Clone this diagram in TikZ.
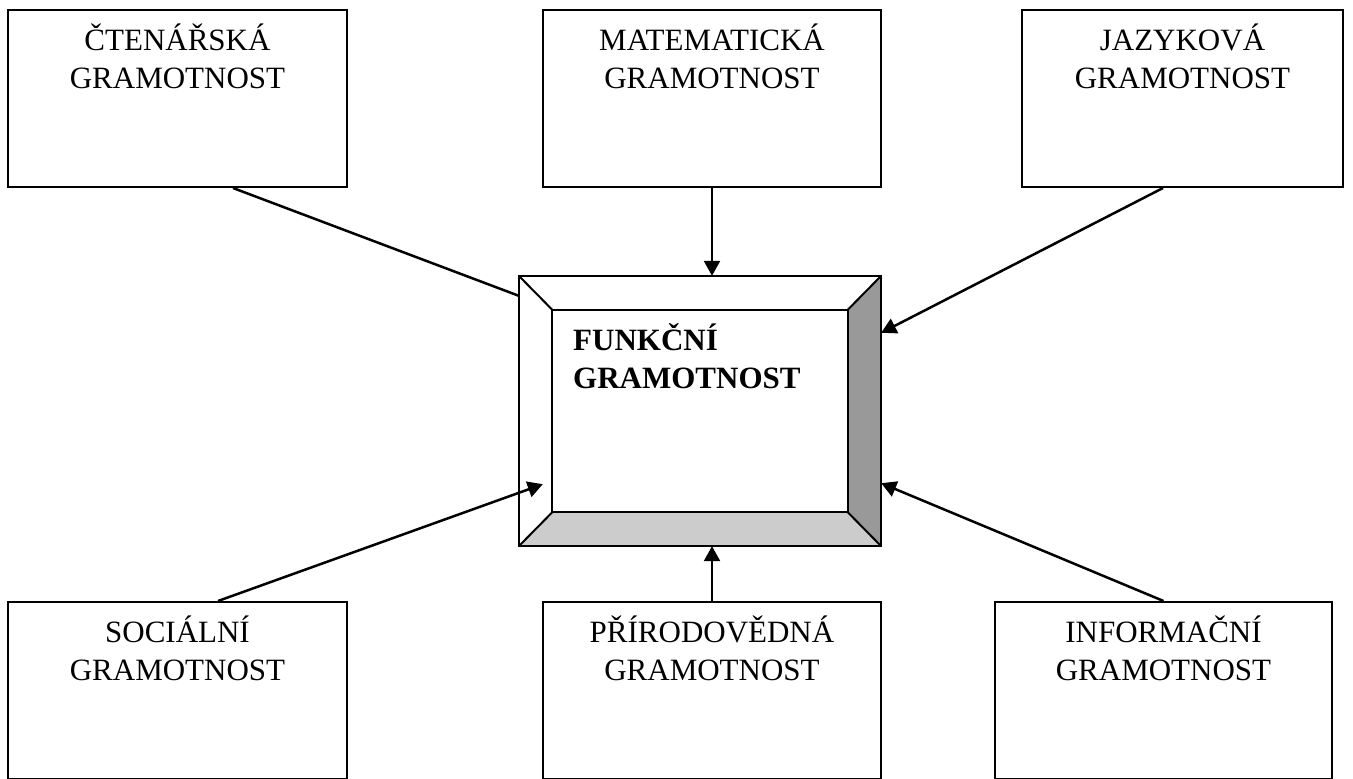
\documentclass[tikz,border=0pt]{standalone}
\usepackage{fontspec}
\setmainfont{Liberation Serif}
\usetikzlibrary{arrows.meta}
\tikzset{
  box/.style={draw, line width=2pt, minimum width=339pt, minimum height=177pt, inner sep=0pt},
  boxtext/.style={anchor=north, inner sep=0pt, align=center, font=\fontsize{31}{38}\selectfont},
  conn/.style={line width=2.5pt},
  arr/.style={line width=2.5pt, -{Triangle[length=15pt,width=16pt]}},
  bevel/.style={line width=2pt, line join=miter},
}
\newcommand{\tallstrut}{\rule{0pt}{32pt}}
\begin{document}
\begin{tikzpicture}[x=1pt,y=-1pt]
\useasboundingbox (0,0) rectangle (1353,779);
% outer boxes
\node[box] (tl) at (177.5,98.5) {};
\node[box, minimum width=338pt] (tm) at (712,98.5) {};
\node[box, minimum width=321pt] (tr) at (1182.5,98.5) {};
\node[box] (bl) at (177.5,690.5) {};
\node[box, minimum width=338pt] (bm) at (712,690.5) {};
\node[box, minimum width=337pt] (br) at (1163.5,690.5) {};
% texts
\node[boxtext] (tlt) at (177.5,18) {\tallstrut ČTENÁŘSKÁ\\GRAMOTNOST};
\node[boxtext] (tmt) at (712,18) {\tallstrut MATEMATICKÁ\\GRAMOTNOST};
\node[boxtext] (trt) at (1182.5,18) {\tallstrut JAZYKOVÁ\\GRAMOTNOST};
\node[boxtext] (blt) at (177.5,610) {\tallstrut SOCIÁLNÍ\\GRAMOTNOST};
\node[boxtext] (bmt) at (712,610) {\tallstrut PŘÍRODOVĚDNÁ\\GRAMOTNOST};
\node[boxtext] (brt) at (1163.5,610) {\tallstrut INFORMAČNÍ\\GRAMOTNOST};
% central bevelled box
\node[inner sep=0pt, minimum width=362pt, minimum height=270pt] (fg) at (700,411) {};
\node[inner sep=0pt, minimum width=295pt, minimum height=202pt] (fgi) at (fg.center) {};
\fill[black!40] (fg.north east) -- (fg.south east) -- (fgi.south east) -- (fgi.north east) -- cycle;
\fill[black!20] (fg.south west) -- (fg.south east) -- (fgi.south east) -- (fgi.south west) -- cycle;
\draw[bevel] (fg.north west) rectangle (fg.south east);
\draw[bevel] (fgi.north west) rectangle (fgi.south east);
\draw[bevel] (fg.north west) -- (fgi.north west);
\draw[bevel] (fg.north east) -- (fgi.north east);
\draw[bevel] (fg.south west) -- (fgi.south west);
\draw[bevel] (fg.south east) -- (fgi.south east);
\node[anchor=north west, inner sep=0pt, align=left, font=\fontsize{31}{38}\selectfont\bfseries] (fgt) at (573,318) {\tallstrut FUNKČNÍ\\GRAMOTNOST};
% connectors
\draw[conn] ([xshift=55.5pt]tl.south) -- ([yshift=-20pt]fg.north west);
\draw[arr] (tm.south) -- (tm.south |- fg.north);
\draw[arr] ([xshift=-19.5pt]tr.south) -- ([yshift=-57pt]fg.north east);
\draw[arr] ([xshift=40.5pt]bl.north) -- ([xshift=24pt,yshift=62pt]fg.south west);
\draw[arr] (bm.north) -- (bm.north |- fg.south);
\draw[arr] (br.north) -- ([yshift=63pt]fg.south east);
\end{tikzpicture}
\end{document}
